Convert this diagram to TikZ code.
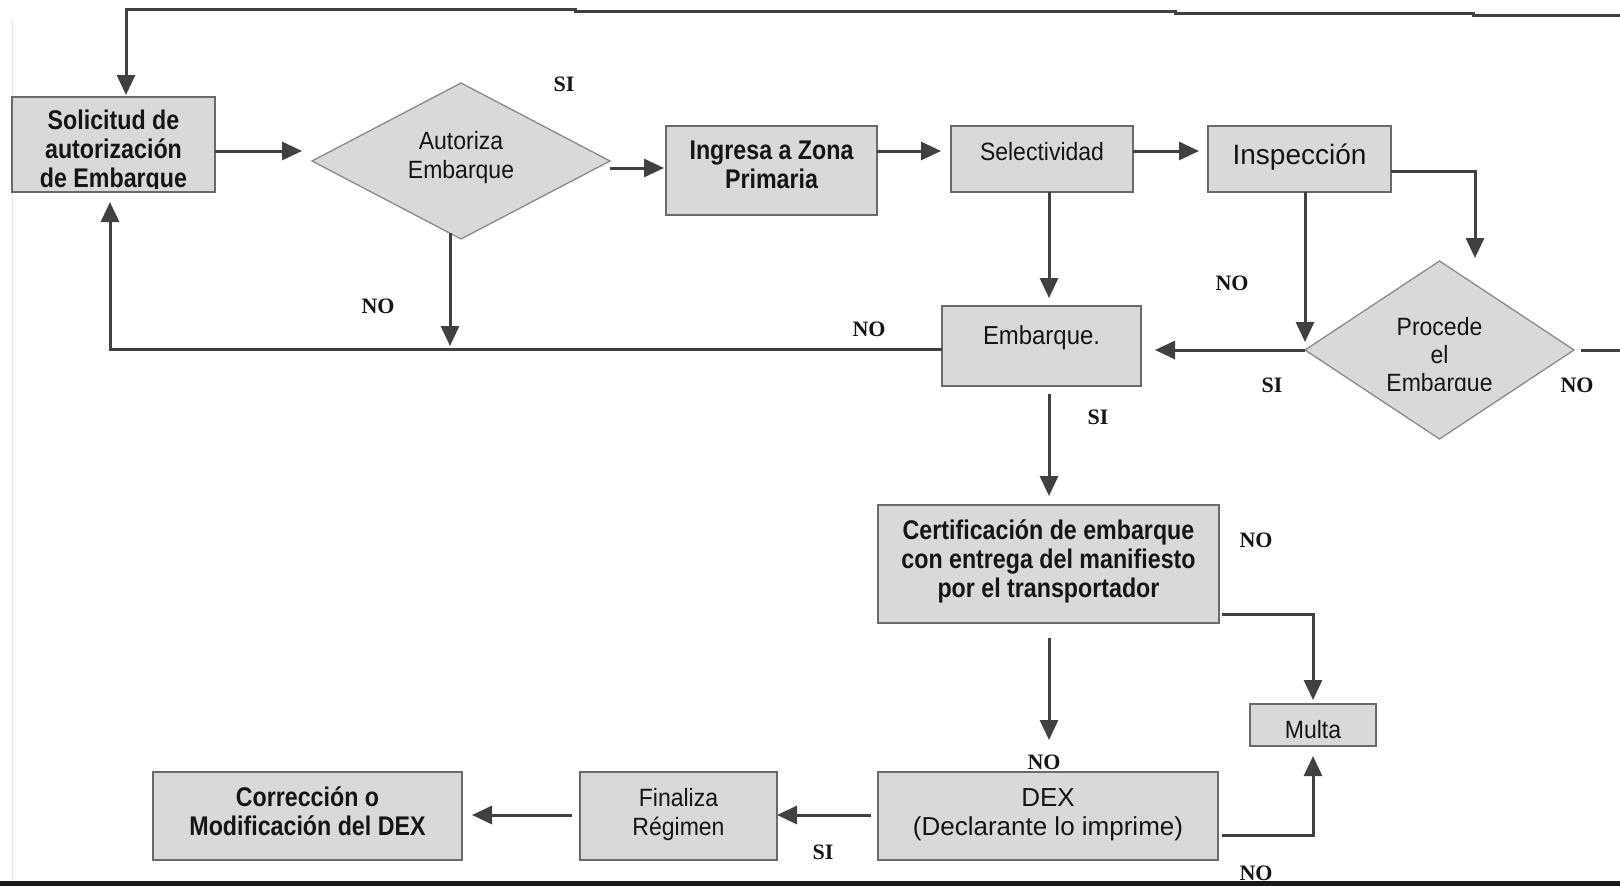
\documentclass[tikz,border=0pt]{standalone}
\usepackage{fontspec}
\setmainfont{Liberation Sans}
\newfontfamily\nbold[FakeStretch=0.86]{Liberation Sans}
\newfontfamily\nreg[FakeStretch=0.92]{Liberation Sans}
\newfontfamily\sreg{Liberation Sans}
\newfontfamily\lblfont{Liberation Serif}
\usetikzlibrary{arrows.meta,shapes.geometric,calc}

\definecolor{boxfill}{HTML}{D9D9D9}
\definecolor{boxline}{HTML}{6A6A6A}
\definecolor{dialine}{HTML}{8A8A8A}
\definecolor{conncol}{HTML}{404040}
\definecolor{txtcol}{HTML}{151515}

\tikzset{
  procbox/.style={draw=boxline, line width=2.5pt, fill=boxfill, inner sep=0pt, outer sep=0pt},
  decision/.style={diamond, draw=dialine, line width=1.3pt, fill=boxfill, inner sep=0pt, outer sep=0pt, aspect=1.9},
  boldtxt/.style={inner sep=0pt, align=center, text=txtcol, font=\nbold\bfseries\fontsize{27}{29}\selectfont},
  regtxt/.style={inner sep=0pt, align=center, text=txtcol, font=\nreg\fontsize{25}{28.5}\selectfont},
  conn/.style={draw=conncol, line width=3pt},
  arr/.style={conn, -{Triangle[length=20pt,width=18pt]}},
  yesno/.style={inner sep=0pt, text=txtcol, font=\lblfont\bfseries\fontsize{22}{24}\selectfont},
}

\begin{document}
\begin{tikzpicture}[x=1pt, y=-1pt]
\useasboundingbox (0,0) rectangle (1620,886);
\fill[white] (0,0) rectangle (1620,886);

% frame lines
\draw[gray!20, line width=1pt] (12,20) -- (12,880);
\fill[black!90] (0,881) rectangle (1620,886);

% process boxes
\node[procbox, minimum width=203pt, minimum height=95pt] (sol) at (113.5,144.5) {};
\node[procbox, minimum width=211pt, minimum height=89pt] (ing) at (771.5,170.5) {};
\node[procbox, minimum width=182pt, minimum height=66pt] (sel) at (1042,159) {};
\node[procbox, minimum width=183pt, minimum height=66pt] (insp) at (1299.5,159) {};
\node[procbox, minimum width=199pt, minimum height=80pt] (emb) at (1041.5,346) {};
\node[procbox, minimum width=341pt, minimum height=118pt] (cert) at (1048.5,564) {};
\node[procbox, minimum width=126pt, minimum height=42pt] (multa) at (1313,725) {};
\node[procbox, minimum width=340pt, minimum height=88pt] (dex) at (1048,816) {};
\node[procbox, minimum width=197pt, minimum height=88pt] (fin) at (678.5,816) {};
\node[procbox, minimum width=309pt, minimum height=88pt] (corr) at (307.5,816) {};

% decisions
\node[decision, minimum width=298pt, minimum height=156pt] (aut) at (461,161) {};
\node[decision, minimum width=269pt, minimum height=178pt, aspect=1.5] (proc) at (1439.5,350) {};

% box texts
\begin{scope}
  \clip (12,97) rectangle (215,188);
  \node[boldtxt] (sol-t) at (113.5,152) {Solicitud de\\autorización\\de Embarque};
\end{scope}
\node[boldtxt] (ing-t) at (771.5,165) {Ingresa a Zona\\Primaria};
\node[boldtxt] (cert-t) at (1048.5,561) {Certificación de embarque\\con entrega del manifiesto\\por el transportador};
\node[boldtxt] (corr-t) at (307.5,811) {Corrección o\\Modificación del DEX};
\node[regtxt] (aut-t) at (461,157.5) {Autoriza\\Embarque};
\node[regtxt] (sel-t) at (1042,152) {Selectividad};
\node[regtxt, font=\sreg\fontsize{28}{30}\selectfont] (insp-t) at (1299.5,157) {Inspección};
\node[regtxt, font=\nreg\fontsize{26}{28.5}\selectfont] (emb-t) at (1041.5,338) {Embarque.};
\node[regtxt] (multa-t) at (1313,729.5) {Multa};
\node[regtxt, font=\sreg\fontsize{26}{28.5}\selectfont] (dex-t) at (1048,814.5) {DEX\\(Declarante lo imprime)};
\node[regtxt] (fin-t) at (678.5,814.5) {Finaliza\\Régimen};
\begin{scope}
  \clip (1350,300) rectangle (1530,390);
  \node[regtxt, font=\nreg\fontsize{25}{28}\selectfont] (proc-t) at (1439.5,357) {Procede\\el\\Embarque};
\end{scope}

% connectors
\coordinate (topright) at (1620,15);
\coordinate (rightout) at (1620,350);
\draw[arr] (topright) -- (1473,15) -- (1473,13) -- (1175,13) -- (1175,11)
  -- (575,11) -- (575,9) -- (126,9) -- ($(sol.north)+(12.5,-2)$);
\draw[arr] ($(sol.east)+(0,6.5)$) -- ($(aut.west)+(-10,-10)$);
\draw[arr] ($(aut.east)+(0,7)$) -- ($(ing.west)+(-2,-2.5)$);
\draw[arr] ($(ing.east)+(0,-19.5)$) -- ($(sel.west)+(-10,-8)$);
\draw[arr] ($(sel.east)+(0,-8)$) -- ($(insp.west)+(-9,-8)$);
\draw[arr] ($(sel.south)+(7,0)$) -- ($(emb.north)+(7.5,-8)$);
\draw[arr] ($(insp.south)+(5.5,0)$) -- ($(proc.west)+(0,-8)$);
\draw[arr] ($(insp.east)+(0,12)$) -| ($(proc.north)+(35.5,-3)$);
\draw[arr] (proc.west) -- ($(emb.east)+(14,4)$);
\draw[conn] ($(proc.east)+(7,0)$) -- (rightout);
\draw[arr] ($(emb.west)+(0,3)$) -| ($(sol.south)+(-3.5,10)$);
\draw[arr] ($(aut.south)+(-11,-6)$) -- ($(aut.south)+(-11,107)$);
\draw[arr] ($(emb.south)+(7.5,8)$) -- ($(cert.north)+(0.5,-9)$);
\draw[arr] ($(cert.south)+(0.5,15)$) -- ($(dex.north)+(1,-32)$);
\draw[arr] ($(cert.east)+(3,50)$) -| ($(multa.north)+(0,-4)$);
\draw[arr] ($(dex.east)+(4,19)$) -| ($(multa.south)+(0,10)$);
\draw[arr] ($(dex.west)+(-7,-1)$) -- ($(fin.east)+(0,-1)$);
\draw[arr] ($(fin.west)+(-8,-1)$) -- ($(corr.east)+(10,-1)$);

% branch labels
\node[yesno] (l1) at (564,84) {SI};
\node[yesno] (l2) at (378,306) {NO};
\node[yesno] (l3) at (869,329) {NO};
\node[yesno] (l4) at (1232,283) {NO};
\node[yesno] (l5) at (1272,385) {SI};
\node[yesno] (l6) at (1577,385) {NO};
\node[yesno] (l7) at (1098,417) {SI};
\node[yesno] (l8) at (1256,540) {NO};
\node[yesno] (l9) at (1044,762) {NO};
\node[yesno] (l10) at (823,852) {SI};
\node[yesno] (l11) at (1256,873) {NO};
\end{tikzpicture}
\end{document}
